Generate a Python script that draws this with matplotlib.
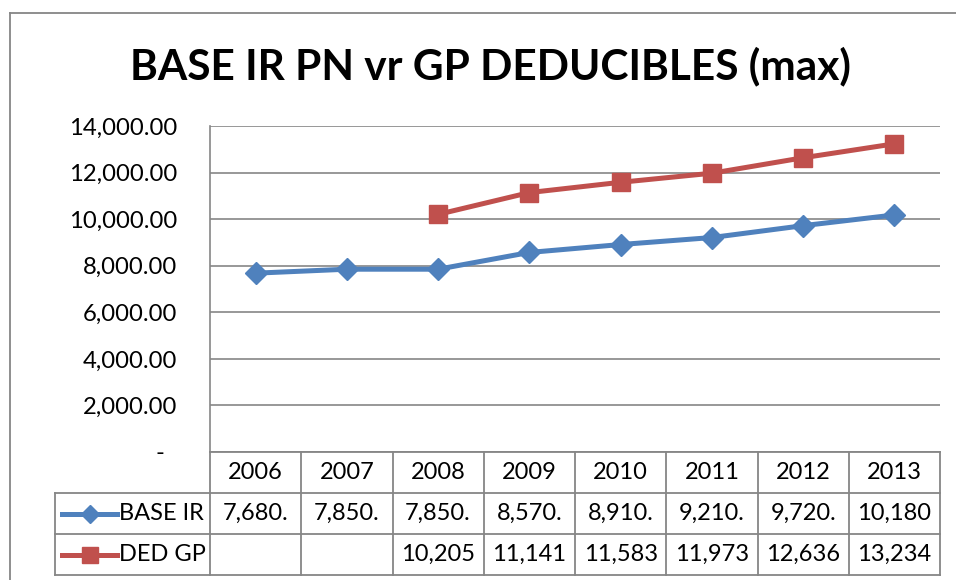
import matplotlib
matplotlib.use("Agg")
import matplotlib.pyplot as plt
from matplotlib.lines import Line2D
from matplotlib.ticker import FixedLocator, FuncFormatter
import matplotlib.transforms as mtransforms
import numpy as np

plt.rcParams['font.family'] = ['Lato', 'DejaVu Sans']

years = ['2006', '2007', '2008', '2009', '2010', '2011', '2012', '2013']
base_ir = [7680, 7850, 7850, 8570, 8910, 9210, 9720, 10180]
ded_gp = [np.nan, np.nan, 10205, 11141, 11583, 11973, 12636, 13234]
series_names = ['BASE IR', 'DED GP']
yticks = [0, 2000, 4000, 6000, 8000, 10000, 12000, 14000]
title = 'BASE IR PN vr GP DEDUCIBLES (max)'

BLUE = '#4F81BD'
RED = '#C0504D'
GRID = '#868686'

W, H = 956, 580
fig = plt.figure(figsize=(W / 100, H / 100), dpi=100)

# outer chart border (left and top visible)
fig.add_artist(Line2D([10 / W, 10 / W], [0, 1 - 13 / H], color=GRID, lw=1.3))
fig.add_artist(Line2D([10 / W, 1], [1 - 13 / H, 1 - 13 / H], color=GRID, lw=1.3))

ax_l, ax_r, ax_t, ax_b = 210, 940, 126, 452
ax = fig.add_axes([ax_l / W, 1 - ax_b / H, (ax_r - ax_l) / W, (ax_b - ax_t) / H])

x = np.arange(len(years))
ax.plot(x, base_ir, color=BLUE, lw=3.6, marker='D', ms=11, mec=BLUE, mfc=BLUE, zorder=3)
ax.plot(x, ded_gp, color=RED, lw=3.6, marker='s', ms=13, mec=RED, mfc=RED, zorder=3)

ax.set_xlim(-0.5, len(years) - 0.5)
ax.set_ylim(0, 14000)
ax.yaxis.set_major_locator(FixedLocator(yticks))
ax.yaxis.set_major_formatter(FuncFormatter(lambda v, p: '-  ' if v == 0 else f'{v:,.2f}'))
ax.set_xticks([])
ax.tick_params(axis='y', length=0, pad=23.5, labelsize=17.2, colors='black')
ax.grid(axis='y', color=GRID, lw=1.2)
ax.set_axisbelow(True)
for s in ['top', 'right', 'bottom']:
    ax.spines[s].set_visible(False)
ax.spines['left'].set_color(GRID)
ax.spines['left'].set_linewidth(1.2)

# data table below the axes
trans = mtransforms.blended_transform_factory(ax.transData, ax.transAxes)
ah = ax_b - ax_t
colw = (ax_r - ax_l) / len(years)
def fy(py):
    return -(py - ax_b) / ah
def fx(px):
    return -0.5 + (px - ax_l) / colw

y_rows = [452, 493, 534, 575]
left_col = 55
lkw = dict(color=GRID, lw=1.3, transform=trans, clip_on=False)
# horizontal lines
ax.add_line(Line2D([-0.5, len(years) - 0.5], [fy(452)] * 2, **lkw))
for yy in y_rows[1:]:
    ax.add_line(Line2D([fx(left_col), len(years) - 0.5], [fy(yy)] * 2, **lkw))
# vertical lines
for i in range(len(years) + 1):
    ax.add_line(Line2D([i - 0.5] * 2, [fy(452), fy(575)], **lkw))
ax.add_line(Line2D([fx(left_col)] * 2, [fy(493), fy(575)], **lkw))

fs = 17
for i, yr in enumerate(years):
    ax.text(i, fy((452 + 493) / 2), yr, ha='center', va='center', fontsize=fs, transform=trans)

def cell(v):
    if np.isnan(v):
        return ''
    return f'{v:,.2f}'[:6]

rows = [base_ir, ded_gp]
colors = [BLUE, RED]
markers = ['D', 's']
msz = [9, 12]
for r, (vals, name, c, m, s) in enumerate(zip(rows, series_names, colors, markers, msz)):
    yc = fy((y_rows[r + 1] + y_rows[r + 2]) / 2)
    for i, v in enumerate(vals):
        ax.text(i, yc, cell(float(v)), ha='center', va='center', fontsize=fs, transform=trans)
    ax.add_line(Line2D([fx(62), fx(117)], [yc, yc], color=c, lw=3.6, transform=trans, clip_on=False))
    ax.add_line(Line2D([fx(89.5)], [yc], color=c, marker=m, ms=s, mec=c, mfc=c, transform=trans, clip_on=False))
    ax.text(fx(119), yc, name, ha='left', va='center', fontsize=fs, transform=trans)

fig.text(490 / W, 1 - 66 / H, title, ha='center', va='center', fontsize=30.5, fontweight='bold')

fig.savefig('out.png', dpi=100)
